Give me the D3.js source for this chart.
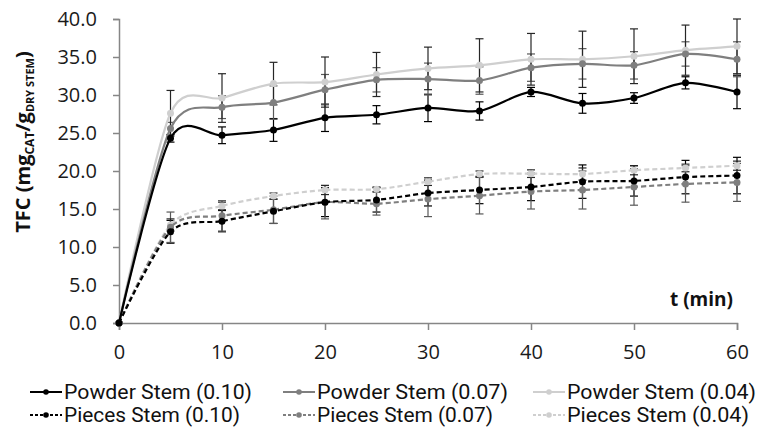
<!DOCTYPE html>
<html><head><meta charset="utf-8">
<script src="https://cdn.jsdelivr.net/npm/d3@7"></script>
<style>
html,body{margin:0;padding:0;background:#fff;}
text{font-family:"Open Sans","Noto Sans",sans-serif;}
</style></head>
<body>
<svg id="chart" width="763" height="427"></svg>
<script>
const times = [0,5,10,15,20,25,30,35,40,45,50,55,60];
const xTicks = [0,10,20,30,40,50,60];
const yTicks = [0,5,10,15,20,25,30,35,40];

const powder010 = [0,24.3,24.7,25.4,27.0,27.4,28.3,27.9,30.4,28.9,29.6,31.6,30.4];
const powder007 = [0,25.6,28.4,29.0,30.7,32.0,32.1,31.9,33.6,34.1,33.9,35.4,34.7];
const powder004 = [0,27.6,29.6,31.5,31.7,32.7,33.5,33.9,34.7,34.7,35.1,35.9,36.4];
const pieces010 = [0,12.0,13.4,14.7,15.9,16.2,17.1,17.5,17.9,18.6,18.7,19.2,19.4];
const pieces007 = [0,12.6,14.1,14.9,15.9,15.7,16.3,16.75,17.3,17.5,17.9,18.3,18.5];
const pieces004 = [0,12.9,15.4,16.7,17.5,17.6,18.6,19.6,19.65,19.6,20.1,20.4,20.7];

const powder010Err = [0,0.5,1.1,1.5,1.8,1.2,1.8,1.2,0.6,1.3,0.7,0.8,2.2];
const powder007Err = [0,0.8,1.5,2.2,2.0,1.6,2.1,1.8,1.8,2.0,1.8,1.6,2.3];
const powder004Err = [0,3.0,3.2,2.8,3.3,2.9,2.8,3.5,3.4,3.7,3.6,3.3,3.6];
const pieces010Err = [0,1.5,1.4,1.6,1.9,1.6,1.7,1.8,1.8,2.2,2.0,2.2,2.4];
const pieces007Err = [0,2.0,2.0,1.8,2.2,1.5,2.3,2.4,2.3,2.5,2.4,2.4,2.5];
const pieces004Err = [0,0.8,0.5,0.4,0.6,0.3,0.5,0.4,0.5,0.8,0.6,0.5,0.6];

const seriesNames = ["Powder Stem (0.10)","Powder Stem (0.07)","Powder Stem (0.04)",
                     "Pieces Stem (0.10)","Pieces Stem (0.07)","Pieces Stem (0.04)"];

const series = [
  {name:seriesNames[0], values:powder010, err:powder010Err, color:"#000000", errColor:"#000000", dash:null},
  {name:seriesNames[1], values:powder007, err:powder007Err, color:"#7f7f7f", errColor:"#595959", dash:null},
  {name:seriesNames[2], values:powder004, err:powder004Err, color:"#cfcfcf", errColor:"#262626", dash:null},
  {name:seriesNames[3], values:pieces010, err:pieces010Err, color:"#000000", errColor:"#000000", dash:"5,3"},
  {name:seriesNames[4], values:pieces007, err:pieces007Err, color:"#7f7f7f", errColor:"#595959", dash:"5,3"},
  {name:seriesNames[5], values:pieces004, err:pieces004Err, color:"#cfcfcf", errColor:"#262626", dash:"5,3"}
];

const svg = d3.select("#chart");
const x = d3.scaleLinear().domain([0,60]).range([119,737]);
const y = d3.scaleLinear().domain([0,40]).range([323,19]);

// axes
const yAxis = svg.append("g").attr("transform","translate(119,0)")
  .call(d3.axisLeft(y).tickValues(yTicks).tickSize(6).tickPadding(16).tickFormat(d3.format(".1f")));
const xAxis = svg.append("g").attr("transform","translate(0,323)")
  .call(d3.axisBottom(x).tickValues(xTicks).tickSize(7).tickPadding(15).tickFormat(d3.format("d")));
[yAxis,xAxis].forEach(g=>{
  g.select(".domain").attr("stroke","#868686").attr("stroke-width",1.5);
  g.selectAll(".tick line").attr("stroke","#868686").attr("stroke-width",1.5);
  g.selectAll(".tick text").attr("fill","#1a1a1a").style("font-size","20px");
});
xAxis.selectAll(".tick text").attr("dy","0.71em");

// error bars
const plot = svg.append("g");
series.forEach(s=>{
  const g = plot.append("g");
  times.forEach((t,i)=>{
    if(!s.err[i]) return;
    const cx = x(t), y1 = y(s.values[i]+s.err[i]), y2 = y(s.values[i]-s.err[i]);
    g.append("line").attr("x1",cx).attr("x2",cx).attr("y1",y1).attr("y2",y2)
      .attr("stroke",s.errColor).attr("stroke-width",1.2);
    [y1,y2].forEach(yy=>g.append("line").attr("x1",cx-4).attr("x2",cx+4).attr("y1",yy).attr("y2",yy)
      .attr("stroke",s.errColor).attr("stroke-width",1.2));
  });
});

// lines
const line = d3.line().x((d,i)=>x(times[i])).y(d=>y(d)).curve(d3.curveCardinal.tension(0.15));
const drawOrder = [5,4,3,2,1,0];
drawOrder.forEach(k=>{
  const s = series[k];
  plot.append("path").datum(s.values).attr("d",line).attr("fill","none")
    .attr("stroke",s.color).attr("stroke-width",2.2)
    .attr("stroke-dasharray",s.dash);
  plot.selectAll(null).data(s.values).enter().append("circle")
    .attr("cx",(d,i)=>x(times[i])).attr("cy",d=>y(d)).attr("r",3.5)
    .attr("fill",s.color);
});

// axis titles
svg.append("text").attr("x",733).attr("y",306).attr("text-anchor","end")
  .style("font-size","19px").style("font-weight","bold").attr("fill","#111").text("t (min)");

const yt = svg.append("text").attr("transform","translate(30,142) rotate(-90)")
  .attr("text-anchor","middle").style("font-weight","bold").attr("fill","#111").style("font-size","20px");
yt.append("tspan").text("TFC (mg");
yt.append("tspan").text("CAT").style("font-size","12px").attr("dy","4");
yt.append("tspan").text("/g").attr("dy","-4");
yt.append("tspan").text("DRY STEM").style("font-size","11px").attr("dy","4");
yt.append("tspan").text(")").attr("dy","-4");

// legend
const legX = [30,283,533];
const legY = [392,415];
const legW = [[188,191,189],[176,176,182]];
series.forEach((s,k)=>{
  const col = k%3, row = Math.floor(k/3);
  const lx = legX[col], ly = legY[row];
  const g = svg.append("g");
  g.append("line").attr("x1",lx).attr("x2",lx+32).attr("y1",ly).attr("y2",ly)
    .attr("stroke",s.color).attr("stroke-width",2).attr("stroke-dasharray",s.dash?"3,2":null);
  g.append("circle").attr("cx",lx+16).attr("cy",ly).attr("r",2.8).attr("fill",s.color);
  g.append("text").attr("x",lx+34).attr("y",ly).attr("dy","0.36em")
    .style("font-family","Roboto, 'Open Sans', sans-serif")
    .style("font-size","20px").attr("fill","#111").text(s.name)
    .attr("textLength",legW[row][col]).attr("lengthAdjust","spacingAndGlyphs");
});
</script>
</body></html>
